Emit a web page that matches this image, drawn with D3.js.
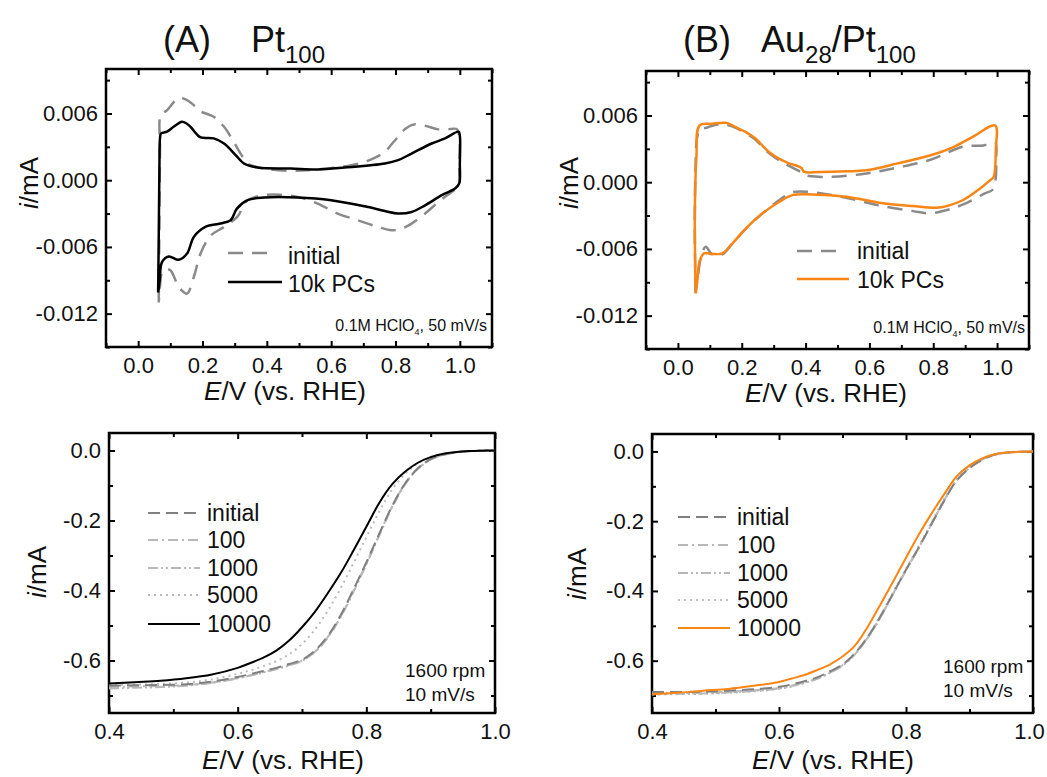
<!DOCTYPE html>
<html>
<head>
<meta charset="utf-8">
<script src="https://cdn.jsdelivr.net/npm/d3@7"></script>
<style>
  body { margin: 0; background: #fff; }
  text { font-family: "Liberation Sans", Arial, sans-serif; fill: #111; }
</style>
</head>
<body>
<div id="graph"></div>
<script>
// ---- CV data, [E (V vs RHE), i (mA)], traced as a closed loop
var ptInitialCV = [[0.064,-0.0110],[0.066,-0.004],[0.068,0.0030],[0.070,0.0058],[0.090,0.0063],[0.110,0.0070],[0.126,0.0074],[0.152,0.0072],[0.175,0.0067],[0.194,0.0062],[0.235,0.0057],[0.267,0.0048],[0.290,0.0038],[0.308,0.0029],[0.325,0.0021],[0.340,0.0015],[0.392,0.00105],[0.475,0.00084],[0.558,0.00097],[0.663,0.00135],[0.725,0.00187],[0.767,0.00256],[0.790,0.0033],[0.808,0.0039],[0.830,0.0046],[0.855,0.0050],[0.892,0.0049],[0.933,0.00457],[0.970,0.0046],[0.990,0.0046],[0.998,0.0040],[0.998,0.0010],[0.996,-0.0006],[0.975,-0.00105],[0.933,-0.00196],[0.892,-0.0030],[0.850,-0.0039],[0.815,-0.0044],[0.788,-0.0045],[0.746,-0.0042],[0.683,-0.0036],[0.620,-0.0030],[0.558,-0.0021],[0.496,-0.0015],[0.440,-0.0013],[0.392,-0.00135],[0.340,-0.0018],[0.308,-0.0033],[0.267,-0.0042],[0.225,-0.0050],[0.194,-0.0066],[0.173,-0.0087],[0.152,-0.0102],[0.135,-0.0099],[0.121,-0.0093],[0.100,-0.0081],[0.085,-0.0080],[0.074,-0.0083],[0.068,-0.0095],[0.064,-0.0110]]
var ptCycledCV = [[0.062,-0.0101],[0.064,-0.005],[0.066,0.0010],[0.068,0.0038],[0.071,0.0042],[0.090,0.00436],[0.110,0.0048],[0.136,0.00526],[0.150,0.0051],[0.163,0.0048],[0.180,0.0042],[0.194,0.00385],[0.235,0.00376],[0.267,0.0033],[0.303,0.00226],[0.329,0.0015],[0.371,0.00114],[0.475,0.00105],[0.558,0.00097],[0.642,0.00114],[0.767,0.0015],[0.808,0.0018],[0.850,0.0024],[0.9125,0.0033],[0.954,0.00376],[0.996,0.00436],[1.000,0.0040],[1.000,0.0015],[0.998,-0.0003],[0.985,-0.00075],[0.944,-0.00135],[0.892,-0.00226],[0.850,-0.00286],[0.808,-0.0030],[0.767,-0.00277],[0.704,-0.00235],[0.600,-0.0018],[0.496,-0.00156],[0.392,-0.00156],[0.340,-0.0018],[0.307,-0.00256],[0.2875,-0.0036],[0.256,-0.0039],[0.209,-0.0042],[0.173,-0.0051],[0.152,-0.0066],[0.126,-0.00716],[0.095,-0.00686],[0.074,-0.00737],[0.067,-0.0090],[0.062,-0.0101]]
var auInitialCV = [[0.055,-0.0099],[0.053,-0.004],[0.055,0.0010],[0.060,0.0040],[0.070,0.0048],[0.090,0.0049],[0.110,0.0051],[0.140,0.0052],[0.181,0.0049],[0.213,0.0044],[0.244,0.0038],[0.286,0.0026],[0.339,0.0016],[0.386,0.0009],[0.400,0.00063],[0.440,0.0005],[0.485,0.00048],[0.590,0.00078],[0.685,0.0013],[0.789,0.0020],[0.894,0.0032],[0.957,0.0033],[0.994,0.0036],[0.997,0.0020],[0.995,0.0002],[0.985,-0.0007],[0.962,-0.0010],[0.894,-0.0020],[0.842,-0.0025],[0.789,-0.0028],[0.737,-0.0026],[0.632,-0.0021],[0.527,-0.0014],[0.422,-0.0009],[0.359,-0.0009],[0.318,-0.0016],[0.265,-0.0028],[0.213,-0.0042],[0.171,-0.0055],[0.139,-0.0065],[0.108,-0.0065],[0.087,-0.0058],[0.071,-0.0069],[0.062,-0.0087],[0.055,-0.0099]]
var auCycledCV = [[0.0556,-0.0100],[0.053,-0.0028],[0.058,0.00227],[0.068,0.0051],[0.108,0.00525],[0.150,0.00534],[0.181,0.00495],[0.213,0.0045],[0.244,0.0039],[0.286,0.0027],[0.339,0.0018],[0.386,0.0013],[0.396,0.00092],[0.443,0.00092],[0.527,0.00098],[0.590,0.00107],[0.685,0.00167],[0.789,0.0024],[0.863,0.00316],[0.925,0.0041],[0.994,0.0051],[0.996,0.0030],[0.989,0.00047],[0.978,0.00018],[0.947,-0.00056],[0.894,-0.0016],[0.842,-0.00215],[0.810,-0.0023],[0.737,-0.00215],[0.632,-0.00185],[0.527,-0.0013],[0.422,-0.0011],[0.359,-0.00116],[0.318,-0.00176],[0.265,-0.0028],[0.213,-0.00415],[0.171,-0.0055],[0.139,-0.0064],[0.108,-0.00645],[0.082,-0.0064],[0.068,-0.0071],[0.061,-0.0088],[0.0556,-0.0100]]
var cvLabels = ['initial', '10k PCs']

// ---- ORR polarization curves, i (mA) at each potential of lsvE
var lsvE = [0.40,0.44,0.48,0.52,0.56,0.60,0.62,0.64,0.66,0.68,0.70,0.72,0.74,0.76,0.78,0.80,0.82,0.84,0.86,0.88,0.90,0.92,0.94,0.96,0.98,1.00]
var ptInitial = [-0.672,-0.671,-0.670,-0.668,-0.660,-0.647,-0.639,-0.630,-0.621,-0.610,-0.598,-0.572,-0.530,-0.471,-0.397,-0.320,-0.238,-0.159,-0.095,-0.051,-0.025,-0.012,-0.005,-0.002,-0.0005,0]
var pt100 = [-0.676,-0.674,-0.673,-0.670,-0.663,-0.650,-0.642,-0.633,-0.624,-0.613,-0.600,-0.576,-0.535,-0.477,-0.404,-0.326,-0.243,-0.163,-0.098,-0.053,-0.026,-0.012,-0.005,-0.002,-0.0005,0]
var pt1000 = [-0.680,-0.678,-0.676,-0.672,-0.664,-0.651,-0.643,-0.634,-0.625,-0.614,-0.601,-0.575,-0.533,-0.474,-0.400,-0.322,-0.240,-0.160,-0.096,-0.052,-0.025,-0.012,-0.005,-0.002,-0.0005,0]
var pt5000 = [-0.670,-0.669,-0.667,-0.663,-0.654,-0.638,-0.628,-0.616,-0.602,-0.582,-0.553,-0.512,-0.458,-0.394,-0.322,-0.248,-0.175,-0.112,-0.067,-0.037,-0.019,-0.009,-0.004,-0.0015,-0.0005,0]
var pt10000 = [-0.666,-0.662,-0.658,-0.651,-0.640,-0.621,-0.607,-0.592,-0.572,-0.543,-0.505,-0.461,-0.408,-0.351,-0.286,-0.218,-0.150,-0.097,-0.061,-0.035,-0.019,-0.009,-0.004,-0.0015,-0.0005,0]
var auInitial = [-0.690,-0.690,-0.689,-0.686,-0.682,-0.675,-0.668,-0.659,-0.648,-0.631,-0.611,-0.578,-0.531,-0.472,-0.406,-0.339,-0.276,-0.209,-0.142,-0.083,-0.048,-0.024,-0.009,-0.003,-0.001,0]
var au100 = [-0.694,-0.693,-0.692,-0.689,-0.685,-0.678,-0.671,-0.662,-0.651,-0.634,-0.613,-0.580,-0.533,-0.474,-0.407,-0.340,-0.276,-0.208,-0.141,-0.082,-0.047,-0.023,-0.009,-0.003,-0.001,0]
var au1000 = [-0.696,-0.695,-0.694,-0.691,-0.687,-0.680,-0.673,-0.664,-0.652,-0.635,-0.614,-0.581,-0.534,-0.475,-0.408,-0.341,-0.277,-0.209,-0.141,-0.082,-0.047,-0.023,-0.009,-0.003,-0.001,0]
var au5000 = [-0.697,-0.696,-0.695,-0.692,-0.688,-0.681,-0.674,-0.664,-0.652,-0.634,-0.612,-0.578,-0.530,-0.470,-0.403,-0.336,-0.272,-0.204,-0.137,-0.079,-0.045,-0.022,-0.008,-0.003,-0.001,0]
var au10000 = [-0.696,-0.692,-0.686,-0.681,-0.672,-0.661,-0.651,-0.641,-0.627,-0.611,-0.588,-0.556,-0.502,-0.438,-0.372,-0.305,-0.239,-0.179,-0.123,-0.071,-0.040,-0.020,-0.008,-0.003,-0.001,0]
var lsvLabels = ['initial', '100', '1000', '5000', '10000']

// ---- axis ticks
var cvXMajor = [0, 0.2, 0.4, 0.6, 0.8, 1.0]
var cvXMinor = [-0.1, 0.1, 0.3, 0.5, 0.7, 0.9, 1.1]
var cvYMajor = [-0.012, -0.006, 0, 0.006]
var cvYMinor = [-0.015, -0.009, -0.003, 0.003, 0.009]
var lsvXMajor = [0.4, 0.6, 0.8, 1.0]
var lsvXMinor = [0.5, 0.7, 0.9]
var lsvYMajor = [-0.6, -0.4, -0.2, 0]
var lsvYMinor = [-0.7, -0.5, -0.3, -0.1]

var orange = '#f98514'

var svg = d3.select('#graph').append('svg').attr('width', 1047).attr('height', 777)

function panel(c) {
  var x = d3.scaleLinear().domain(c.xd).range([c.l, c.r])
  var y = d3.scaleLinear().domain(c.yd).range([c.b, c.t])
  var g = svg.append('g')

  function ax(gen, tr, vals, size, fmt, pad) {
    var a = g.append('g').attr('transform', tr)
      .call(gen.tickValues(vals).tickSize(size).tickPadding(pad || 0).tickFormat(fmt || ''))
    a.attr('font-size', null).attr('font-family', null)
    a.select('.domain').remove()
    a.selectAll('line').attr('stroke', '#000').attr('stroke-width', 2)
    a.selectAll('text').style('font-size', '22px').attr('fill', '#111')
    return a
  }
  var xAxis = ax(d3.axisBottom(x), `translate(0,${c.b})`, c.xMaj, -6, c.xf, c.xpad)
  ax(d3.axisBottom(x), `translate(0,${c.b})`, c.xMin, -4)
  ax(d3.axisTop(x), `translate(0,${c.t})`, c.xMaj, -6)
  ax(d3.axisTop(x), `translate(0,${c.t})`, c.xMin, -4)
  ax(d3.axisLeft(y), `translate(${c.l},0)`, c.yMaj, -6, c.yf, 8)
  ax(d3.axisLeft(y), `translate(${c.l},0)`, c.yMin, -4)
  ax(d3.axisRight(y), `translate(${c.r},0)`, c.yMaj, -6)
  ax(d3.axisRight(y), `translate(${c.r},0)`, c.yMin, -4)

  g.append('rect').attr('x', c.l).attr('y', c.t).attr('width', c.r - c.l).attr('height', c.b - c.t)
    .attr('fill', 'none').attr('stroke', '#000').attr('stroke-width', 2.5)

  var xt = g.append('text').attr('x', c.xtx).attr('y', c.xty).attr('text-anchor', 'middle').style('font-size', '26px')
  xt.append('tspan').attr('font-style', 'italic').text('E')
  xt.append('tspan').text('/V (vs. RHE)')

  var yt = g.append('text').attr('transform', `translate(${c.ytx},${c.yty}) rotate(-90)`)
    .attr('text-anchor', 'middle').style('font-size', '26px')
  yt.append('tspan').attr('font-style', 'italic').text('i')
  yt.append('tspan').text('/mA')

  var id = 'clip' + Math.round(c.l) + Math.round(c.t)
  g.append('clipPath').attr('id', id).append('rect')
    .attr('x', c.l).attr('y', c.t).attr('width', c.r - c.l).attr('height', c.b - c.t)
  var plot = g.append('g').attr('clip-path', `url(#${id})`)
  return {x, y, g, plot, xAxis}
}

function drawSeries(p, data, st) {
  var line = d3.line().x(d => p.x(d[0])).y(d => p.y(d[1])).curve(d3.curveCatmullRom.alpha(0.5))
  p.plot.append('path').attr('d', line(data)).attr('fill', 'none')
    .attr('stroke', st.color).attr('stroke-width', st.w)
    .attr('stroke-dasharray', st.dash || null).attr('stroke-linejoin', 'round')
}

function legendRow(p, x1, x2, tx, yLine, yText, label, st) {
  p.g.append('line').attr('x1', x1).attr('x2', x2).attr('y1', yLine).attr('y2', yLine)
    .attr('stroke', st.color).attr('stroke-width', st.w).attr('stroke-dasharray', st.dash || null)
  p.g.append('text').attr('x', tx).attr('y', yText).style('font-size', '23px').text(label)
}

function cvNote(p, xr, yb) {
  var t = p.g.append('text').attr('x', xr).attr('y', yb).attr('text-anchor', 'end').style('font-size', '16px')
  t.append('tspan').text('0.1M HClO')
  t.append('tspan').attr('dy', 4).style('font-size', '9px').text('4')
  t.append('tspan').attr('dy', -4).text(', 50 mV/s')
}

function lsvNote(p, xl, yb) {
  p.g.append('text').attr('x', xl).attr('y', yb).style('font-size', '19px').text('1600 rpm')
  p.g.append('text').attr('x', xl).attr('y', yb + 24).style('font-size', '19px').text('10 mV/s')
}

var fmt3 = d => d.toFixed(3)
var fmt1 = d => d.toFixed(1)

// ---- titles
var tA = svg.append('text').attr('x', 163).attr('y', 52).style('font-size', '36px')
tA.append('tspan').text('(A)')
tA.append('tspan').attr('x', 251).text('Pt')
tA.append('tspan').attr('dy', 11).style('font-size', '24px').text('100')

var tB = svg.append('text').attr('x', 683).attr('y', 52).style('font-size', '36px')
tB.append('tspan').text('(B)')
tB.append('tspan').attr('x', 761).text('Au')
tB.append('tspan').attr('dy', 11).style('font-size', '24px').text('28')
tB.append('tspan').attr('dy', -11).text('/Pt')
tB.append('tspan').attr('dy', 11).style('font-size', '24px').text('100')

// ---- CV panels
var cvGray = {color: '#8a8a8a', w: 2.5, dash: '15,9'}

var pA = panel({l: 106, r: 492, t: 69, b: 347, xd: [-0.1, 1.1], yd: [-0.015, 0.010],
  xMaj: cvXMajor, xMin: cvXMinor, yMaj: cvYMajor, yMin: cvYMinor, xf: fmt1, yf: fmt3, xpad: 10,
  xtx: 285, xty: 400, ytx: 38, yty: 183})
drawSeries(pA, ptInitialCV, cvGray)
drawSeries(pA, ptCycledCV, {color: '#000', w: 2.5})
legendRow(pA, 228, 272, 288, 253, 264, cvLabels[0], cvGray)
legendRow(pA, 228, 282, 288, 282, 292, cvLabels[1], {color: '#000', w: 2.5})
cvNote(pA, 487, 331)

var pB = panel({l: 646, r: 1029, t: 71, b: 349, xd: [-0.1, 1.1], yd: [-0.015, 0.010],
  xMaj: cvXMajor, xMin: cvXMinor, yMaj: cvYMajor, yMin: cvYMinor, xf: fmt1, yf: fmt3, xpad: 10,
  xtx: 826, xty: 402, ytx: 578, yty: 183})
drawSeries(pB, auInitialCV, cvGray)
drawSeries(pB, auCycledCV, {color: orange, w: 2.5})
legendRow(pB, 797, 837, 857, 251, 259, cvLabels[0], cvGray)
legendRow(pB, 797, 849, 857, 279, 288, cvLabels[1], {color: orange, w: 2.5})
cvNote(pB, 1025, 333)

// ---- ORR panels
function lsvStyles(last) {
  return [
    {color: '#808080', w: 2, dash: '12,6'},
    {color: '#b8b8b8', w: 2, dash: '10,4,2,4'},
    {color: '#b8b8b8', w: 2, dash: '10,3,2,3,2,3'},
    {color: '#bcbcbc', w: 2, dash: '2,4'},
    {color: last, w: 2}
  ]
}

function lsvPanel(cfg, series, last, legX, legRows) {
  var p = panel(cfg)
  var st = lsvStyles(last)
  var order = [3, 2, 1, 0, 4]
  order.forEach(k => drawSeries(p, lsvE.map((e, i) => [e, series[k][i]]), st[k]))
  lsvLabels.forEach((lab, k) => legendRow(p, legX[0], legX[1], legX[2], legRows[k] - 8, legRows[k], lab, st[k]))
  return p
}

var pC = lsvPanel({l: 109, r: 495, t: 433, b: 713, xd: [0.4, 1.0], yd: [-0.75, 0.05],
  xMaj: lsvXMajor, xMin: lsvXMinor, yMaj: lsvYMajor, yMin: lsvYMinor, xf: fmt1, yf: fmt1, xpad: 10,
  xtx: 283, xty: 769, ytx: 46, yty: 572},
  [ptInitial, pt100, pt1000, pt5000, pt10000], '#000', [148, 200, 207], [521, 548, 576, 603, 632])
lsvNote(pC, 405, 677)

var pD = lsvPanel({l: 652, r: 1033, t: 434, b: 713, xd: [0.4, 1.0], yd: [-0.75, 0.05],
  xMaj: lsvXMajor, xMin: lsvXMinor, yMaj: lsvYMajor, yMin: lsvYMinor, xf: fmt1, yf: fmt1, xpad: 10,
  xtx: 833, xty: 769, ytx: 586, yty: 574},
  [auInitial, au100, au1000, au5000, au10000], orange, [678, 730, 737], [525, 553, 581, 608, 636])
lsvNote(pD, 943, 673)
// keep the last tick label inside the page
pD.xAxis.selectAll('.tick text').filter(d => d === 1.0).attr('dx', -4)
</script>
</body>
</html>
